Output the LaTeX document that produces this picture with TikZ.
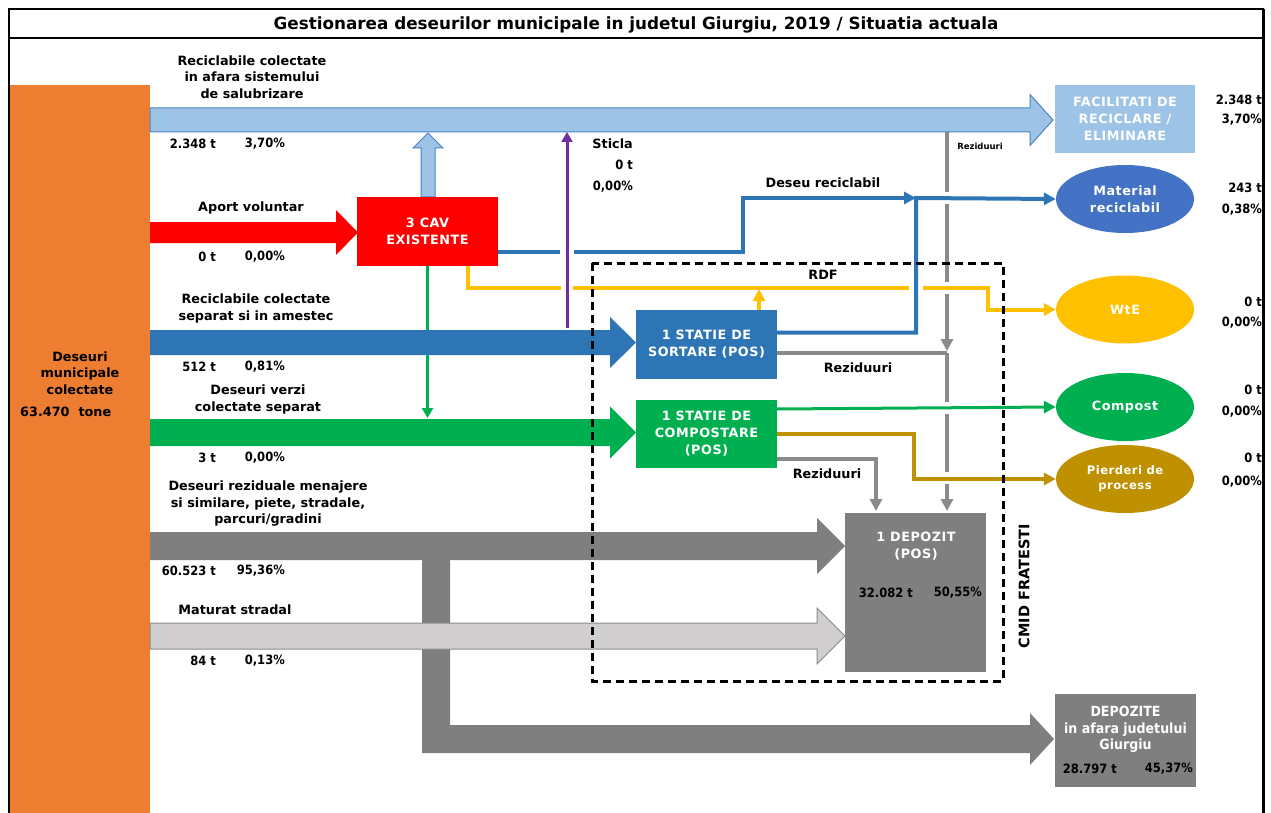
\documentclass[tikz,border=0pt]{standalone}
\usepackage{fontspec}
\setmainfont{DejaVu Sans}
\newfontfamily\condf{DejaVu Sans Condensed}
\newfontfamily\boxfam[LetterSpace=4]{DejaVu Sans}
\usetikzlibrary{arrows.meta,shapes.geometric}
\definecolor{corange}{HTML}{ED7D31}
\definecolor{lblue}{HTML}{9DC3E6}
\definecolor{lblueb}{HTML}{4A86C5}
\definecolor{dblue}{HTML}{2E75B6}
\definecolor{cgreen}{HTML}{00B050}
\definecolor{dgray}{HTML}{7F7F7F}
\definecolor{lgray}{HTML}{D0CECE}
\definecolor{lgrayb}{HTML}{8C8C8C}
\definecolor{lngray}{HTML}{8A8A8A}
\definecolor{matblue}{HTML}{4472C4}
\definecolor{cyellow}{HTML}{FFC000}
\definecolor{cgold}{HTML}{BF9000}
\definecolor{cpurple}{HTML}{7030A0}
\newcommand{\hfat}[7]{%
  \path[#1] (#2,{#4-#5}) -- ({#3-#7},{#4-#5}) -- ({#3-#7},{#4-#6}) -- (#3,#4)
    -- ({#3-#7},{#4+#6}) -- ({#3-#7},{#4+#5}) -- (#2,{#4+#5}) -- cycle;}
\newcommand{\lblf}{\bfseries\fontsize{12.8}{16.5}\selectfont}
\newcommand{\numf}{\condf\bfseries\fontsize{12.8}{16}\selectfont}
\newcommand{\boxf}{\boxfam\bfseries\fontsize{12.8}{17}\selectfont}
\tikzset{
  lbl/.style={font=\lblf, align=center, inner sep=0pt},
  num/.style={font=\numf, inner sep=0pt},
  boxn/.style={rectangle, inner sep=0pt, text=white, font=\boxf, align=center},
  ell/.style={ellipse, inner sep=0pt, minimum width=138pt, minimum height=68pt, text=white, font=\boxf, align=center},
  blueln/.style={draw=dblue, line width=4pt},
  grayln/.style={draw=lngray, line width=3.5pt},
  yelln/.style={draw=cyellow, line width=4pt},
  greenln/.style={draw=cgreen, line width=3pt},
  goldln/.style={draw=cgold, line width=4pt},
  tipb/.style={-{Triangle[length=12pt,width=12pt]}},
  tips/.style={-{Triangle[length=10pt,width=11pt]}},
  gapw/.style={draw=white, line width=8pt},
}
\begin{document}
\begin{tikzpicture}[x=1pt,y=-1pt]
\useasboundingbox (0,0) rectangle (1271,813);
\fill[white] (0,0) rectangle (1271,813);
% frame
\draw[line width=1.5pt] (9,813) -- (9,9) -- (1263.5,9);
\draw[line width=3pt] (1263.5,9) -- (1263.5,813);
\draw[line width=2pt] (9,38) -- (1263.5,38);
\node[font=\bfseries\fontsize{16.8}{18}\selectfont, inner sep=0pt] (title) at (636,24.5)
  {Gestionarea deseurilor municipale in judetul Giurgiu, 2019 / Situatia actuala};
% source
\fill[corange] (10,85) rectangle (150,813);
% green thin vertical under the dark blue bar
\node[boxn, fill=red, minimum width=141pt, minimum height=69pt] (cav) at (427.5,231.5) {3 CAV\\EXISTENTE};
\draw[greenln, tips] (cav.south) -- (427.5,418);
% fat arrows
\hfat{fill=lblue,draw=lblueb,line width=1pt}{150}{1053}{120}{12}{25.5}{23}
\hfat{fill=red}{150}{358}{232.5}{10.5}{22.5}{22}
\hfat{fill=dblue}{150}{636}{342.5}{12.5}{25.5}{26}
\hfat{fill=cgreen}{150}{636}{432.5}{13.5}{26}{26}
\fill[dgray] (422,556) -- (450,556) -- (450,725) -- (1030,725) -- (1030,713) -- (1054,739)
  -- (1030,765) -- (1030,753) -- (422,753) -- cycle;
\hfat{fill=dgray}{150}{845}{546}{14}{28}{28}
\hfat{fill=lgray,draw=lgrayb,line width=1pt}{150}{845}{636}{13}{28}{28}
% light blue up arrow from CAV
\path[fill=lblue,draw=lblueb,line width=1pt] (421,197) -- (421,148) -- (413,148) -- (428,133)
  -- (443,148) -- (435,148) -- (435,197) -- cycle;
% boxes
\node[boxn, fill=red, minimum width=141pt, minimum height=69pt] at (427.5,231.5) {3 CAV\\EXISTENTE};
\node[boxn, fill=dblue, minimum width=141pt, minimum height=69pt] (sort) at (706.5,344.5) {1 STATIE DE\\SORTARE (POS)};
\node[boxn, fill=cgreen, minimum width=141pt, minimum height=68pt] (comp) at (706.5,434) {1 STATIE DE\\COMPOSTARE\\(POS)};
\node[boxn, fill=dgray, minimum width=141pt, minimum height=159pt] (dep) at (915.5,592.5) {};
\node[boxn, fill=lblue, minimum width=140pt, minimum height=68pt] (fac) at (1125,119) {FACILITATI DE\\RECICLARE /\\ELIMINARE};
\node[boxn, fill=dgray, minimum width=141pt, minimum height=93pt] (deps) at (1125.5,740.5) {};
\node[ell, fill=matblue] (mat) at (1125,199) {Material\\reciclabil};
\node[ell, fill=cyellow] (wte) at (1125,309.5) {WtE};
\node[ell, fill=cgreen] (compost) at (1125,407) {Compost};
\node[ell, fill=cgold, font=\boxfam\bfseries\fontsize{11.6}{15}\selectfont] (pierd) at (1125,479) {Pierderi de\\process};
% coordinates
\coordinate (rz) at (947,132);
\coordinate (rzj) at (947,353);
\coordinate (depTop) at (947,511);
\coordinate (jb) at (916,198);
% gray residue lines
\draw[grayln, tipb] (rz) -- (947,351);
\draw[grayln, tipb] (rzj) -- (depTop);
\draw[grayln] ([yshift=-8.5pt]sort.east) -- (rzj);
\draw[grayln, tipb] ([yshift=-25pt]comp.east) -| (876,511);
% gaps in gray vertical
\draw[gapw, line width=7pt] (947,192) -- (947,204);
\draw[gapw, line width=7pt] (947,282) -- (947,294);
\draw[gapw, line width=7pt] (947,402) -- (947,414);
\draw[gapw, line width=7pt] (947,472) -- (947,484);
% RDF yellow
\draw[yelln, tipb] ([xshift=40.5pt]cav.south) -- (468,288) -- (988,288) -- (988,309.5) -- (wte.west);
\draw[yelln, tipb] (759,310) -- (759,289);
\draw[gapw, line width=12pt] (561,288) -- (573,288);
\draw[gapw, line width=12pt] (909,288) -- (923,288);
% blue lines
\draw[blueln, tipb] ([yshift=-20.5pt]cav.east) -- (743,252) -- (743,198) -- (jb);
\draw[blueln, tipb] ([yshift=12pt]sort.east) -- (916,332.5) -- (jb) -- (mat.west);
\draw[gapw, line width=12pt] (560,252) -- (574,252);
% purple
\draw[draw=cpurple, line width=3pt, tips] (567,328) -- (567,132);
% compost lines
\draw[greenln, tipb] ([yshift=25pt]comp.east) -- (compost.west);
\draw[goldln, tipb] (comp.east) -- (914,434) -- (914,479) -- (pierd.west);
% dashed CMID box
\draw[line width=3pt, dash pattern=on 8pt off 5pt] (592,263) rectangle (1003,681);
\node[font=\bfseries\fontsize{14.5}{16}\selectfont, rotate=90, inner sep=0pt] (cmid) at (1024,586) {CMID FRATESTI};
% source text
\node[lbl] (srct) at (80,373) {Deseuri\\municipale\\colectate};
\node[lbl, anchor=west] (srcn) at (20,412) {63.470\ \ tone};
% labels of flows
\node[lbl] (l1) at (252,77) {Reciclabile colectate\\in afara sistemului\\de salubrizare};
\node[num, anchor=east] at (216,144) {2.348 t};
\node[num, anchor=east] at (285,144) {3,70\%};
\node[lbl] (l2) at (251,208) {Aport voluntar};
\node[num, anchor=east] at (216,257) {0 t};
\node[num, anchor=east] at (285,257) {0,00\%};
\node[lbl] (l3) at (256,308.5) {Reciclabile colectate\\separat si in amestec};
\node[num, anchor=east] at (216,367) {512 t};
\node[num, anchor=east] at (285,367) {0,81\%};
\node[lbl] (l4) at (258,399.5) {Deseuri verzi\\colectate separat};
\node[num, anchor=east] at (216,458) {3 t};
\node[num, anchor=east] at (285,458) {0,00\%};
\node[lbl] (l5) at (268,504) {Deseuri reziduale menajere\\si similare, piete, stradale,\\parcuri/gradini};
\node[num, anchor=east] at (216,571) {60.523 t};
\node[num, anchor=east] at (285,571) {95,36\%};
\node[lbl] (l6) at (235,610) {Maturat stradal};
\node[num, anchor=east] at (216,661) {84 t};
\node[num, anchor=east] at (285,661) {0,13\%};
% sticla
\node[lbl, anchor=east] (sticla) at (633,144) {Sticla};
\node[num, anchor=east] at (633,165) {0 t};
\node[num, anchor=east] at (633,187) {0,00\%};
% inner labels
\node[lbl] (lrec) at (823,183) {Deseu reciclabil};
\node[lbl] (lrdf) at (823,275) {RDF};
\node[lbl] (lrz1) at (858,368) {Reziduuri};
\node[lbl] (lrz2) at (827,474) {Reziduuri};
\node[font=\bfseries\fontsize{8.5}{10}\selectfont, inner sep=0pt] (lrz0) at (980,146) {Reziduuri};
% depozit text
\node[boxn] at (916,546.5) {1 DEPOZIT\\(POS)};
\node[num, anchor=east] at (913,593) {32.082 t};
\node[num, anchor=east] at (982,593) {50,55\%};
% depozite text
\node[font=\condf\bfseries\fontsize{14}{16.5}\selectfont, text=white, align=center, inner sep=0pt] at (1125.5,729.5) {DEPOZITE\\in afara judetului\\Giurgiu};
\node[num, anchor=east] at (1117,769) {28.797 t};
\node[num, anchor=east] at (1193,769) {45,37\%};
% right side numbers
\node[num, anchor=east] at (1262,100) {2.348 t};
\node[num, anchor=east] at (1262,120) {3,70\%};
\node[num, anchor=east] at (1262,188) {243 t};
\node[num, anchor=east] at (1262,210) {0,38\%};
\node[num, anchor=east] at (1262,302) {0 t};
\node[num, anchor=east] at (1262,323) {0,00\%};
\node[num, anchor=east] at (1262,390) {0 t};
\node[num, anchor=east] at (1262,412) {0,00\%};
\node[num, anchor=east] at (1262,458) {0 t};
\node[num, anchor=east] at (1262,482) {0,00\%};
\end{tikzpicture}
\end{document}
